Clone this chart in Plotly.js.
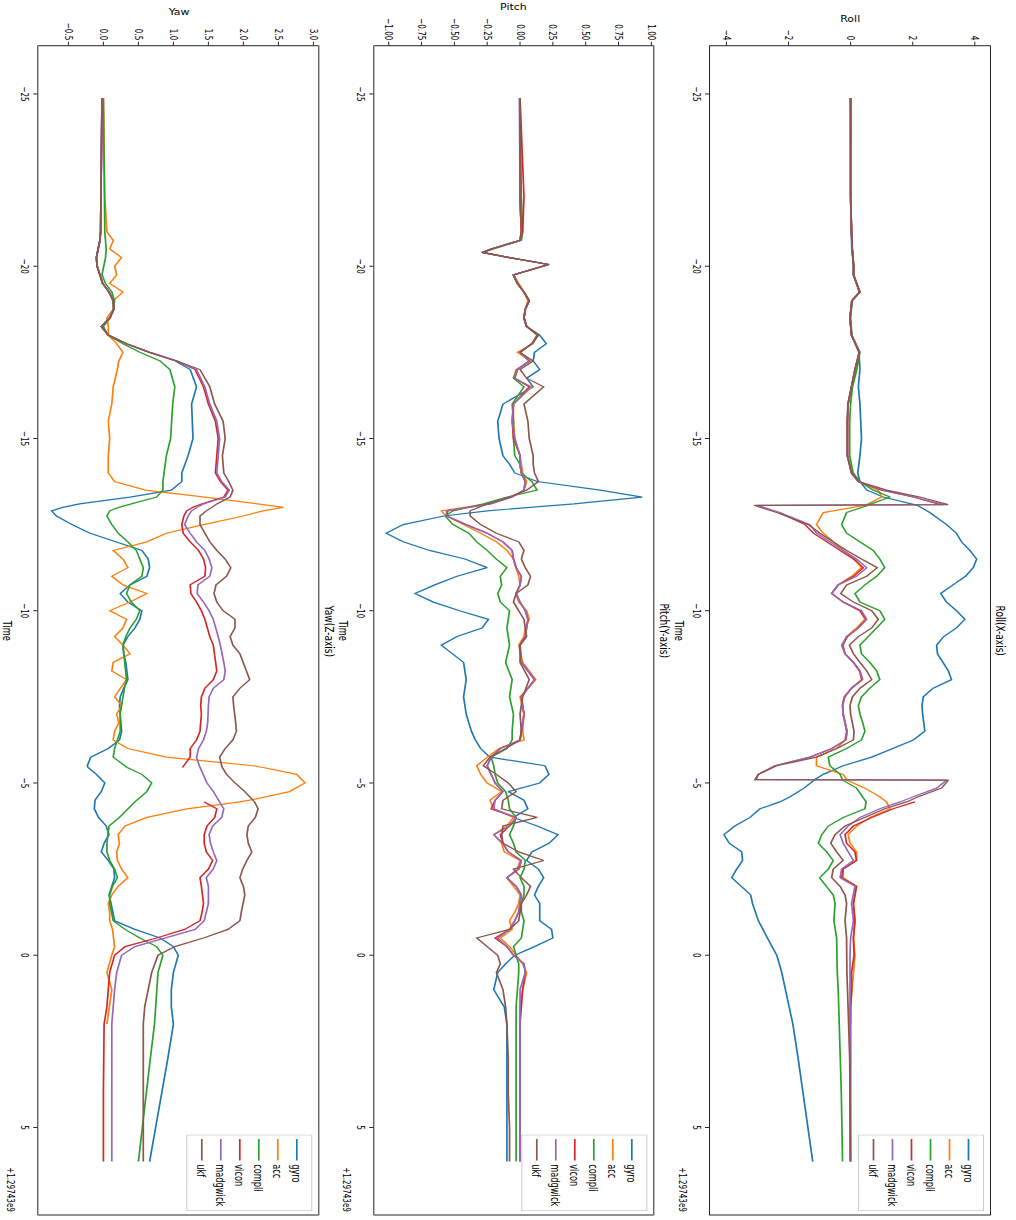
<!DOCTYPE html>
<html>
<head>
<meta charset="utf-8">
<script src="https://cdn.plot.ly/plotly-3.0.1.min.js"></script>
<style>
  html, body { margin: 0; padding: 0; background: #ffffff; overflow: hidden; width: 1016px; height: 1220px; }
  #chart { position: absolute; left: 0; top: 0; transform-origin: 0 0; }
</style>
</head>
<body>
<div id="chart"></div>
<script>
// ---------------- data ----------------
const seriesNames = ['gyro', 'acc', 'compli', 'vicon', 'madgwick', 'ukf'];

const timeTicks = [-25, -20, -15, -10, -5, 0, 5];
const timeTickText = ['\u221225', '\u221220', '\u221215', '\u221210', '\u22125', '0', '5'];
const rollTicks = [-4, -2, 0, 2, 4];
const rollTickText = ['\u22124', '\u22122', '0', '2', '4'];
const pitchTicks = [-1, -0.75, -0.5, -0.25, 0, 0.25, 0.5, 0.75, 1];
const pitchTickText = ['\u22121.00', '\u22120.75', '\u22120.50', '\u22120.25', '0.00', '0.25', '0.50', '0.75', '1.00'];
const yawTicks = [-0.5, 0, 0.5, 1, 1.5, 2, 2.5, 3];
const yawTickText = ['\u22120.5', '0.0', '0.5', '1.0', '1.5', '2.0', '2.5', '3.0'];

// Roll (X-axis)
const rollTime = [
  -24.88, -22, -21, -20.5, -20, -19.75, -19.5, -19.25, -19, -18.5,
  -18, -17.5, -17, -16.5, -16, -15.5, -15, -14.5, -14, -13.75,
  -13.5, -13.3, -13.08, -13.06, -12.85, -12.5, -12.25, -12, -11.75, -11.5,
  -11.25, -11, -10.75, -10.5, -10.25, -10, -9.75, -9.5, -9.25, -9,
  -8.75, -8.5, -8.25, -8, -7.75, -7.5, -7.25, -7, -6.75, -6.5,
  -6.25, -6, -5.75, -5.5, -5.25, -5.1, -5.08, -4.85, -4.6, -4.45,
  -4.25, -4, -3.75, -3.5, -3.25, -3, -2.75, -2.5, -2.25, -2,
  -1.75, -1.5, -1, -0.5, 0, 0.5, 1, 1.5, 2, 3,
  4, 5, 5.99];
const rollGyro = [
  0.0, 0.0, 0.02, 0.04, 0.1, 0.1, 0.19, 0.28, 0.05, -0.02,
  0.03, 0.27, 0.3, 0.25, 0.3, 0.33, 0.35, 0.3, 0.23, 0.3,
  0.52, 1.05, 2.13, 2.15, 2.55, 3.09, 3.41, 3.57, 3.84, 4.06,
  3.95, 3.7, 3.3, 2.9, 3.09, 3.41, 3.68, 3.41, 3.0, 2.77,
  2.8, 2.98, 3.15, 3.25, 2.66, 2.34, 2.3, 2.32, 2.36, 2.39,
  2.02, 1.37, 0.68, -0.24, -0.88, -1.15, -1.18, -1.5, -1.95, -2.28,
  -2.92, -3.24, -3.73, -4.08, -3.91, -3.51, -3.48, -3.67, -3.83, -3.51,
  -3.22, -3.16, -2.97, -2.68, -2.38, -2.22, -2.1, -1.98, -1.86, -1.69,
  -1.53, -1.37, -1.22];
const rollAcc = [
  0.0, 0.0, 0.03, 0.05, 0.1, 0.09, 0.19, 0.3, 0.04, -0.02,
  0.03, 0.28, 0.14, 0.03, -0.08, -0.1, -0.11, -0.1, 0.03, 0.25,
  0.89, 1.0, 0.52, 0.45, -0.88, -1.1, -0.88, -0.56, -0.24, 0.14,
  0.35, 0.03, -0.4, -0.61, -0.24, 0.3, 0.46, 0.19, -0.13, -0.24,
  -0.18, 0.09, 0.28, 0.35, 0.03, -0.21, -0.26, -0.24, -0.18, -0.13,
  -0.18, -0.45, -1.1, -1.1, -0.24, -0.13, -0.11, 0.46, 0.94, 1.16,
  1.27, 0.62, 0.19, -0.08, -0.02, 0.19, 0.19, -0.24, -0.24, 0.19,
  0.14, 0.09, 0.14, 0.09, 0.14, 0.09, 0.03, 0.0, 0.0, null,
  null, null, null];
const rollCompli = [
  0.0, 0.0, 0.03, 0.06, 0.1, 0.1, 0.2, 0.3, 0.05, 0.0,
  0.04, 0.3, 0.2, 0.06, 0.0, -0.03, -0.03, -0.03, 0.08, 0.3,
  0.73, 1.27, 0.6, 0.57, -0.13, -0.29, -0.13, 0.3, 0.73, 0.94,
  1.1, 0.84, 0.46, 0.14, 0.3, 0.94, 1.1, 0.84, 0.57, 0.3,
  0.35, 0.62, 0.84, 0.94, 0.62, 0.35, 0.25, 0.3, 0.39, 0.46,
  0.35, -0.13, -0.72, -0.67, -0.34, -0.26, -0.25, 0.19, 0.39, 0.5,
  0.46, -0.24, -0.72, -0.93, -1.04, -0.77, -0.56, -0.72, -1.0, -0.77,
  -0.56, -0.5, -0.54, -0.45, -0.45, -0.43, -0.4, -0.38, -0.36, -0.33,
  -0.3, -0.28, -0.26];
const rollVicon = [
  0.0, 0.0, 0.03, 0.05, 0.1, 0.09, 0.19, 0.29, 0.04, -0.02,
  0.03, 0.28, 0.14, 0.03, -0.08, -0.1, -0.1, -0.1, 0.03, 0.25,
  1.0, 2.02, 2.9, null, -2.3, -1.47, -1.2, -0.77, -0.34, 0.09,
  0.41, 0.1, -0.4, -0.61, -0.24, 0.3, 0.5, 0.25, -0.1, -0.27,
  -0.18, 0.09, 0.3, 0.37, 0.03, -0.2, -0.26, -0.24, -0.18, -0.12,
  -0.16, -0.6, -1.3, -2.44, -2.97, -3.05, null, null, null, 2.07,
  1.37, 0.68, 0.09, -0.18, -0.13, 0.14, 0.19, -0.24, -0.29, 0.19,
  0.14, 0.09, 0.14, 0.09, 0.11, 0.03, 0.03, 0.0, 0.0, 0.0,
  0.0, 0.0, 0.0];
const rollMadgwick = [
  0.0, 0.0, 0.03, 0.05, 0.1, 0.09, 0.19, 0.3, 0.04, -0.02,
  0.03, 0.28, 0.14, 0.03, -0.08, -0.1, -0.11, -0.1, 0.03, 0.25,
  1.05, 2.02, 3.0, -3.0, -2.28, -1.31, -1.1, -0.67, -0.24, 0.19,
  0.52, 0.19, -0.4, -0.61, -0.24, 0.35, 0.52, 0.25, -0.13, -0.29,
  -0.18, 0.09, 0.3, 0.39, 0.03, -0.18, -0.26, -0.24, -0.18, -0.11,
  -0.15, -0.61, -1.31, -2.44, -2.97, -3.08, 3.09, 2.77, 2.02, 1.59,
  0.94, 0.3, -0.08, -0.34, -0.24, -0.08, 0.09, -0.29, -0.34, 0.14,
  0.09, 0.03, 0.09, 0.0, -0.02, -0.02, -0.02, -0.02, -0.02, -0.02,
  -0.02, -0.02, -0.02];
const rollUkf = [
  0.0, 0.0, 0.03, 0.05, 0.1, 0.09, 0.19, 0.3, 0.04, -0.02,
  0.03, 0.28, 0.14, 0.03, -0.09, -0.11, -0.12, -0.11, 0.03, 0.25,
  1.16, 2.23, 3.14, -3.11, -2.38, -1.36, -0.99, -0.56, -0.13, 0.35,
  0.86, 0.52, -0.13, -0.32, 0.09, 0.68, 0.89, 0.68, 0.25, -0.04,
  0.09, 0.3, 0.52, 0.68, 0.3, 0.06, -0.02, 0.0, 0.06, 0.11,
  0.09, -0.45, -1.1, -2.38, -2.97, -3.08, 3.15, 2.93, 2.18, 1.8,
  1.1, 0.46, -0.18, -0.5, -0.64, -0.45, -0.24, -0.56, -0.61, -0.34,
  -0.18, -0.13, -0.18, -0.13, -0.13, -0.12, -0.1, -0.08, -0.05, -0.03,
  -0.02, 0.0, 0.0];

// Pitch (Y-axis)
const pitchTime = [
  -24.88, -22, -21, -20.75, -20.5, -20.4, -20.25, -20.05, -19.75, -19.5,
  -19.25, -19, -18.75, -18.5, -18.25, -18, -17.75, -17.5, -17.25, -17,
  -16.75, -16.5, -16, -15.5, -15, -14.5, -14.25, -14, -13.75, -13.5,
  -13.3, -13.1, -12.9, -12.75, -12.5, -12.25, -12, -11.75, -11.5, -11.25,
  -11, -10.75, -10.5, -10.25, -10, -9.75, -9.5, -9.25, -9, -8.5,
  -8, -7.5, -7, -6.5, -6.25, -6, -5.75, -5.5, -5.25, -5,
  -4.75, -4.5, -4.25, -4, -3.75, -3.5, -3.25, -3, -2.75, -2.5,
  -2.25, -2, -1.75, -1.5, -1.25, -1, -0.75, -0.5, -0.25, 0,
  0.25, 0.5, 1, 1.5, 2, 3, 4, 5, 5.99];
const pitchGyro = [
  0.0, 0.0, 0.01, 0.0, -0.22, -0.29, -0.08, 0.22, -0.05, -0.02,
  0.03, 0.07, 0.04, 0.03, 0.05, 0.15, 0.2, 0.11, 0.1, 0.15,
  0.05, 0.1, -0.13, -0.17, -0.16, -0.13, -0.08, -0.04, 0.13, 0.61,
  0.93, 0.41, -0.25, -0.58, -0.89, -1.02, -0.89, -0.69, -0.42, -0.25,
  -0.48, -0.65, -0.8, -0.66, -0.46, -0.24, -0.29, -0.48, -0.6, -0.43,
  -0.41, -0.43, -0.41, -0.37, -0.34, -0.3, -0.23, 0.19, 0.22, 0.15,
  -0.09, 0.03, 0.06, -0.05, 0.13, 0.29, 0.22, 0.09, 0.05, 0.14,
  0.18, 0.14, 0.11, 0.15, 0.15, 0.15, 0.24, 0.25, 0.11, -0.04,
  -0.11, -0.17, -0.2, -0.12, -0.1, -0.1, -0.1, -0.1, -0.1];
const pitchAcc = [
  0.0, 0.0, 0.01, 0.0, -0.22, -0.29, -0.08, 0.22, -0.05, -0.01,
  0.03, 0.06, 0.04, 0.03, 0.05, 0.13, 0.1, -0.02, 0.08, -0.03,
  -0.05, 0.09, -0.05, -0.05, -0.04, 0.0, 0.01, 0.02, 0.05, 0.03,
  -0.07, -0.25, -0.6, -0.56, -0.43, -0.3, -0.18, -0.1, -0.05, -0.03,
  -0.01, 0.0, -0.03, -0.01, 0.05, 0.07, 0.04, 0.03, -0.01, 0.02,
  0.12, 0.0, 0.03, 0.02, 0.03, -0.16, -0.25, -0.33, -0.3, -0.25,
  -0.14, -0.23, -0.2, -0.05, -0.1, -0.2, -0.14, -0.12, 0.0, -0.02,
  -0.1, -0.05, 0.0, -0.01, -0.04, -0.08, -0.06, -0.15, -0.08, -0.03,
  0.02, 0.05, 0.02, 0.0, 0.0, null, null, null, null];
const pitchCompli = [
  0.0, 0.01, 0.02, 0.01, -0.2, -0.28, -0.08, 0.21, -0.05, -0.02,
  0.03, 0.07, 0.04, 0.03, 0.05, 0.13, 0.09, 0.0, 0.07, -0.02,
  -0.05, 0.03, -0.06, -0.05, -0.05, -0.04, 0.0, 0.01, 0.09, 0.13,
  -0.1, -0.28, -0.51, -0.57, -0.51, -0.39, -0.33, -0.25, -0.18, -0.1,
  -0.15, -0.14, -0.17, -0.15, -0.08, -0.09, -0.1, -0.09, -0.08, -0.11,
  -0.06, -0.08, -0.05, -0.06, -0.06, -0.1, -0.22, -0.2, -0.19, -0.17,
  -0.11, -0.09, -0.08, -0.03, -0.05, -0.08, -0.05, -0.03, 0.04, 0.03,
  0.0, 0.03, 0.03, 0.01, 0.01, 0.03, 0.02, 0.01, -0.05, -0.03,
  -0.01, -0.01, -0.02, -0.03, -0.03, -0.03, -0.03, -0.03, -0.03];
const pitchVicon = [
  0.0, 0.03, 0.02, 0.0, -0.22, -0.29, -0.08, 0.22, -0.05, -0.02,
  0.03, 0.07, 0.04, 0.03, 0.05, 0.14, 0.09, 0.0, 0.07, -0.02,
  -0.04, 0.07, -0.05, -0.06, -0.05, 0.0, 0.0, 0.01, 0.04, 0.03,
  -0.06, -0.23, -0.55, -0.56, -0.41, -0.25, -0.13, -0.06, -0.05, -0.03,
  0.01, 0.0, -0.03, 0.0, 0.04, 0.06, 0.05, 0.04, 0.0, 0.01,
  0.11, 0.01, 0.03, 0.01, 0.0, -0.15, -0.22, -0.25, -0.22, -0.19,
  -0.13, -0.19, -0.22, -0.03, -0.08, -0.15, -0.13, -0.09, 0.01, -0.01,
  -0.1, -0.03, 0.01, 0.0, -0.01, -0.04, -0.08, -0.19, -0.1, -0.05,
  0.03, 0.04, 0.02, 0.01, 0.0, 0.0, 0.0, 0.0, 0.0];
const pitchMadgwick = [
  -0.005, 0.0, 0.01, 0.0, -0.22, -0.29, -0.08, 0.22, -0.05, -0.02,
  0.03, 0.07, 0.04, 0.03, 0.05, 0.14, 0.09, 0.0, 0.07, -0.02,
  -0.04, 0.08, -0.05, -0.06, -0.04, 0.0, 0.0, 0.01, 0.04, 0.03,
  -0.06, -0.22, -0.56, -0.56, -0.41, -0.25, -0.13, -0.06, -0.05, -0.03,
  0.01, 0.0, -0.03, 0.0, 0.04, 0.06, 0.05, 0.04, 0.0, 0.01,
  0.11, 0.01, 0.03, 0.01, 0.0, -0.15, -0.22, -0.25, -0.22, -0.19,
  -0.13, -0.19, -0.2, -0.03, -0.08, -0.2, -0.13, -0.09, 0.01, -0.01,
  -0.1, -0.03, 0.01, 0.0, -0.01, -0.04, -0.08, -0.17, -0.1, -0.05,
  0.03, 0.04, 0.0, 0.0, 0.0, 0.0, 0.0, 0.0, 0.0];
const pitchUkf = [
  0.0, 0.0, 0.01, 0.0, -0.22, -0.29, -0.08, 0.22, -0.05, -0.02,
  0.03, 0.07, 0.04, 0.03, 0.05, 0.14, 0.09, 0.0, 0.1, 0.0,
  0.05, 0.18, 0.03, 0.06, 0.07, 0.1, 0.1, 0.11, 0.14, 0.05,
  -0.08, -0.25, -0.38, -0.38, -0.3, -0.18, -0.01, 0.03, 0.01, 0.04,
  0.08, 0.06, -0.03, -0.05, -0.01, 0.03, 0.04, 0.05, 0.0, 0.0,
  0.07, 0.02, 0.0, 0.01, 0.0, -0.11, -0.23, -0.28, -0.18, -0.09,
  -0.03, -0.13, -0.14, 0.13, -0.13, -0.14, -0.13, -0.01, 0.18, -0.05,
  0.01, 0.08, 0.05, 0.01, 0.0, -0.01, -0.08, -0.33, -0.25, -0.17,
  -0.15, -0.18, -0.13, -0.11, -0.1, -0.09, -0.09, -0.08, -0.08];

// Yaw (Z-axis)
const yawTime = [
  -24.88, -22, -21, -20.75, -20.5, -20.25, -20, -19.75, -19.5, -19.25,
  -19, -18.75, -18.5, -18.25, -18, -17.75, -17.5, -17.25, -17, -16.5,
  -16, -15.5, -15, -14.5, -14, -13.75, -13.5, -13.3, -13.1, -13,
  -12.9, -12.75, -12.5, -12.25, -12, -11.75, -11.5, -11.25, -11, -10.75,
  -10.5, -10.25, -10, -9.75, -9.5, -9.25, -9, -8.75, -8.5, -8.25,
  -8, -7.75, -7.5, -7.25, -7, -6.75, -6.5, -6.25, -6, -5.75,
  -5.5, -5.45, -5.25, -5, -4.75, -4.5, -4.45, -4.25, -4, -3.75,
  -3.5, -3.25, -3, -2.75, -2.5, -2.25, -2, -1.75, -1.5, -1.25,
  -1, -0.75, -0.5, -0.25, 0, 0.5, 1, 1.5, 2, 3,
  4, 5, 5.99];
const yawGyro = [
  -0.02, -0.03, -0.04, -0.05, -0.08, -0.1, -0.09, -0.05, -0.01, 0.08,
  0.14, 0.15, 0.09, -0.03, 0.07, 0.33, 0.66, 1.03, 1.24, 1.33,
  1.26, 1.27, 1.28, 1.21, 1.12, 1.12, 0.97, 0.38, -0.34, -0.58,
  -0.74, -0.67, -0.45, -0.19, 0.19, 0.55, 0.64, 0.66, 0.62, 0.38,
  0.24, 0.35, 0.55, 0.52, 0.45, 0.35, 0.28, 0.29, 0.32, 0.34,
  0.35, 0.29, 0.24, 0.23, 0.24, 0.25, 0.26, 0.23, 0.07, -0.18,
  -0.23, -0.22, -0.1, 0.02, -0.03, -0.12, -0.12, -0.13, -0.07, 0.04,
  0.08, 0.01, -0.03, 0.07, 0.15, 0.16, 0.12, 0.08, 0.11, 0.13,
  0.16, 0.45, 0.81, 1.0, 1.07, 1.0, 0.97, 0.97, 1.0, 0.92,
  0.83, 0.75, 0.66];
const yawAcc = [
  0.0, 0.02, 0.05, 0.14, 0.09, 0.26, 0.16, 0.19, 0.09, 0.28,
  0.14, 0.14, 0.05, 0.07, 0.07, 0.19, 0.28, 0.22, 0.2, 0.14,
  0.12, 0.07, 0.09, 0.07, 0.07, 0.16, 0.6, 1.45, 2.2, 2.57,
  2.28, 2.0, 1.43, 0.9, 0.62, 0.14, 0.28, 0.35, 0.12, 0.28,
  0.62, 0.38, 0.09, 0.33, 0.28, 0.16, 0.28, 0.38, 0.14, 0.12,
  0.33, 0.24, 0.16, 0.26, 0.19, 0.22, 0.16, 0.14, 0.35, 0.9,
  2.14, 2.28, 2.76, 2.88, 2.66, 2.09, 1.95, 1.19, 0.62, 0.31,
  0.21, 0.23, 0.19, 0.2, 0.26, 0.35, 0.21, 0.12, 0.07, 0.09,
  0.09, 0.13, 0.15, 0.16, 0.12, 0.05, 0.12, 0.09, 0.05, null,
  null, null, null];
const yawCompli = [
  0.0, 0.01, 0.02, 0.03, 0.04, 0.03, 0.0, -0.02, 0.03, 0.12,
  0.16, 0.14, 0.1, 0.0, 0.06, 0.28, 0.52, 0.81, 0.95, 1.02,
  0.99, 0.97, 0.96, 0.9, 0.86, 0.85, 0.85, 0.76, 0.4, 0.22,
  0.09, 0.05, 0.12, 0.21, 0.35, 0.47, 0.52, 0.57, 0.55, 0.38,
  0.33, 0.4, 0.52, 0.47, 0.38, 0.32, 0.28, 0.29, 0.31, 0.32,
  0.33, 0.3, 0.28, 0.26, 0.24, 0.24, 0.24, 0.2, 0.16, 0.14,
  0.31, 0.34, 0.55, 0.69, 0.62, 0.47, 0.45, 0.35, 0.23, 0.08,
  0.06, 0.05, 0.05, 0.09, 0.16, 0.2, 0.13, 0.09, 0.09, 0.12,
  0.14, 0.31, 0.52, 0.76, 0.85, 0.78, 0.76, 0.74, 0.73, 0.67,
  0.61, 0.55, 0.5];
const yawVicon = [
  -0.02, -0.03, -0.04, -0.05, -0.08, -0.1, -0.09, -0.05, -0.01, 0.08,
  0.14, 0.15, 0.09, -0.03, 0.07, 0.33, 0.66, 1.05, 1.31, 1.43,
  1.5, 1.6, 1.64, 1.62, 1.6, 1.67, 1.78, 1.72, 1.4, 1.28,
  1.19, 1.15, 1.12, 1.14, 1.24, 1.36, 1.43, 1.46, 1.45, 1.24,
  1.25, 1.33, 1.4, 1.45, 1.48, 1.52, 1.57, 1.59, 1.61, 1.62,
  1.57, 1.45, 1.4, 1.39, 1.4, 1.39, 1.38, 1.33, 1.24, 1.24,
  1.15, 1.13, null, null, null, null, 1.44, 1.62, 1.59, 1.48,
  1.44, 1.44, 1.47, 1.56, 1.5, 1.38, 1.4, 1.41, 1.43, 1.41,
  1.38, 1.16, 0.76, 0.31, 0.16, 0.09, 0.07, 0.05, 0.01, 0.0,
  0.0, 0.0, 0.0];
const yawMadgwick = [
  -0.02, -0.03, -0.04, -0.05, -0.08, -0.1, -0.09, -0.05, -0.01, 0.08,
  0.14, 0.15, 0.09, -0.03, 0.07, 0.33, 0.66, 1.05, 1.33, 1.45,
  1.52, 1.62, 1.66, 1.64, 1.62, 1.69, 1.8, 1.74, 1.43, 1.34,
  1.26, 1.21, 1.16, 1.24, 1.33, 1.45, 1.51, 1.55, 1.52, 1.35,
  1.34, 1.43, 1.51, 1.57, 1.61, 1.64, 1.67, 1.7, 1.72, 1.74,
  1.72, 1.57, 1.51, 1.5, 1.5, 1.49, 1.47, 1.43, 1.36, 1.33,
  1.37, 1.38, 1.43, 1.48, 1.57, 1.64, 1.66, 1.72, 1.69, 1.56,
  1.51, 1.53, 1.57, 1.62, 1.57, 1.47, 1.5, 1.5, 1.5, 1.47,
  1.44, 1.31, 0.88, 0.45, 0.26, 0.19, 0.16, 0.14, 0.12, 0.12,
  0.12, 0.12, 0.12];
const yawUkf = [
  -0.02, -0.03, -0.04, -0.05, -0.08, -0.1, -0.09, -0.05, -0.01, 0.08,
  0.14, 0.15, 0.09, -0.03, 0.07, 0.33, 0.66, 1.05, 1.38, 1.52,
  1.59, 1.71, 1.74, 1.7, 1.72, 1.79, 1.85, 1.81, 1.62, 1.55,
  1.47, 1.38, 1.38, 1.45, 1.52, 1.62, 1.74, 1.82, 1.76, 1.61,
  1.58, 1.62, 1.71, 1.88, 1.88, 1.81, 1.85, 1.95, 2.0, 2.05,
  2.09, 1.95, 1.85, 1.86, 1.88, 1.89, 1.9, 1.85, 1.74, 1.66,
  1.69, 1.7, 1.76, 1.88, 2.02, 2.14, 2.16, 2.21, 2.17, 2.07,
  2.05, 2.07, 2.12, 2.05, 1.99, 1.95, 2.0, 2.02, 1.99, 1.97,
  1.95, 1.78, 1.43, 1.02, 0.78, 0.69, 0.64, 0.59, 0.57, 0.57,
  0.57, 0.57, 0.57];

// ---------------- drawing ----------------
// The figure is laid out in landscape and then turned a quarter turn clockwise,
// slightly compressed along the time direction.
const S = 0.72;
const W = Math.round(1220 / S);
const H = 1016;
const M = { l: 64, r: 7, t: 26, b: 38 };
const PW = W - M.l - M.r;
const PH = H - M.t - M.b;
const fx = (px) => (px / S - M.l) / PW;          // final-image distance along time -> paper x
const fy = (py) => (H - M.b - py) / PH;          // landscape pixel row -> paper y

const colors = ['#1f77b4', '#ff7f0e', '#2ca02c', '#d62728', '#9467bd', '#8c564b'];
const FONT = 'DejaVu Sans';

const panels = [
  { time: rollTime, series: [rollGyro, rollAcc, rollCompli, rollVicon, rollMadgwick, rollUkf],
    title: 'Roll(X-axis)', label: 'Roll', top: 26, bottom: 306, range: [-4.53, 4.49],
    ticks: rollTicks, tickText: rollTickText, labelX: 20 },
  { time: pitchTime, series: [pitchGyro, pitchAcc, pitchCompli, pitchVicon, pitchMadgwick, pitchUkf],
    title: 'Pitch(Y-axis)', label: 'Pitch', top: 362.7, bottom: 641.7, range: [-1.11, 1.015],
    ticks: pitchTicks, tickText: pitchTickText, labelX: 7 },
  { time: yawTime, series: [yawGyro, yawAcc, yawCompli, yawVicon, yawMadgwick, yawUkf],
    title: 'Yaw(Z-axis)', label: 'Yaw', top: 697.7, bottom: 977.7, range: [-0.93, 3.07],
    ticks: yawTicks, tickText: yawTickText, labelX: 12.7 }
];

const traces = [];
const layout = {
  width: W, height: H, margin: M,
  paper_bgcolor: '#ffffff', plot_bgcolor: '#ffffff',
  font: { family: FONT, size: 10, color: '#000000' },
  annotations: []
};

panels.forEach((p, i) => {
  const sfx = i === 0 ? '' : String(i + 1);
  const legendId = 'legend' + sfx;
  p.series.forEach((vals, k) => {
    traces.push({
      type: 'scatter', mode: 'lines', x: p.time, y: vals,
      xaxis: 'x' + sfx, yaxis: 'y' + sfx, name: seriesNames[k],
      legend: legendId, showlegend: true,
      line: { color: colors[k], width: 1.7 }
    });
  });
  const axisCommon = {
    showline: true, mirror: true, linecolor: '#000000', linewidth: 1,
    showgrid: false, zeroline: false, ticks: 'outside', tickcolor: '#000000',
    tickwidth: 1, tickfont: { family: FONT, size: 10, color: '#000000' }
  };
  layout['xaxis' + sfx] = Object.assign({}, axisCommon, {
    domain: [0, 1], anchor: 'y' + sfx, range: [-26.39, 7.53],
    tickmode: 'array', tickvals: timeTicks, ticktext: timeTickText, ticklen: 4
  });
  layout['yaxis' + sfx] = Object.assign({}, axisCommon, {
    domain: [fy(p.bottom), fy(p.top)], anchor: 'x' + sfx, range: p.range,
    tickmode: 'array', tickvals: p.ticks, ticktext: p.tickText, ticklen: 5
  });
  layout[legendId] = {
    x: fx(1211), xanchor: 'right', y: fy(p.top + 6), yanchor: 'top',
    bgcolor: 'rgba(255,255,255,0.8)', bordercolor: '#cccccc', borderwidth: 1,
    font: { family: FONT, size: 11.5, color: '#000000' }, tracegroupgap: 0
  };
  const mid = (fy(p.top) + fy(p.bottom)) / 2;
  layout.annotations.push(
    { text: p.label, xref: 'paper', yref: 'paper', x: fx(p.labelX), y: mid,
      xanchor: 'center', yanchor: 'middle', textangle: -90, showarrow: false,
      font: { family: FONT, size: 11, color: '#000000' } },
    { text: p.title, xref: 'paper', yref: 'paper', x: 0.5, y: fy(p.top - 11),
      xanchor: 'center', yanchor: 'middle', showarrow: false,
      font: { family: FONT, size: 12.5, color: '#000000' } },
    { text: 'Time', xref: 'paper', yref: 'paper', x: 0.5, y: fy(p.bottom + 31),
      xanchor: 'center', yanchor: 'middle', showarrow: false,
      font: { family: FONT, size: 11.5, color: '#000000' } },
    { text: '+1.29743e9', xref: 'paper', yref: 'paper', x: fx(1213), y: fy(p.bottom + 27.5),
      xanchor: 'right', yanchor: 'middle', showarrow: false,
      font: { family: FONT, size: 10, color: '#000000' } }
  );
});

const el = document.getElementById('chart');
el.style.width = W + 'px';
el.style.height = H + 'px';
el.style.transform = 'translate(1016px, 0px) rotate(90deg) scaleX(' + S + ')';
Plotly.newPlot(el, traces, layout, { staticPlot: true, displayModeBar: false });
</script>
</body>
</html>
